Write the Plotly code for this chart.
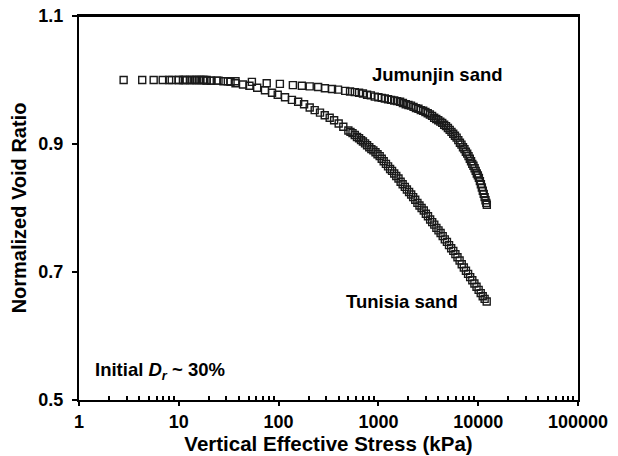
import plotly.graph_objects as go

# ---- data ----
jum_stress = [2.8, 4.3, 5.6, 6.9, 8.5, 10, 11.5, 13, 14.5, 16, 17.5, 19, 21, 25, 31, 37,
              54, 76, 103, 139, 171, 205, 249, 291, 343, 394, 465,
              520, 580, 640, 700, 770, 840, 920, 1000, 1080, 1160, 1250, 1340, 1440, 1540,
              1650, 1760, 1880, 2000, 2120, 2250, 2380, 2520, 2660, 2810, 2960, 3120, 3280,
              3450, 3620, 3800, 3980, 4170, 4360, 4560, 4760, 4970, 5180, 5400, 5620, 5850,
              6080, 6320, 6560, 6800, 7040, 7280, 7520, 7760, 8000, 8240, 8480, 8720, 8960,
              9200, 9440, 9680, 9920, 10160, 10400, 10640, 10880, 11120, 11360, 11600, 11840,
              12060, 12200]
jum_void = [1.000, 1.000, 1.000, 1.000, 1.000, 1.000, 1.000, 1.000, 1.000, 1.000, 1.000, 1.000,
            0.999, 0.999, 0.998, 0.998,
            0.997, 0.995, 0.994, 0.992, 0.991, 0.990, 0.989, 0.987, 0.986, 0.985, 0.983,
            0.982, 0.981, 0.980, 0.979, 0.977, 0.976, 0.974, 0.973, 0.972, 0.971, 0.970,
            0.969, 0.968, 0.967, 0.966, 0.964, 0.962, 0.961, 0.960, 0.958, 0.956, 0.955,
            0.953, 0.952, 0.950, 0.948, 0.946, 0.944, 0.941, 0.939, 0.937, 0.935, 0.933,
            0.930, 0.928, 0.925, 0.922, 0.919, 0.916, 0.913, 0.910, 0.906, 0.902, 0.899,
            0.895, 0.892, 0.888, 0.885, 0.881, 0.877, 0.873, 0.869, 0.866, 0.862, 0.858,
            0.854, 0.851, 0.847, 0.842, 0.837, 0.832, 0.827, 0.822, 0.817, 0.812, 0.808,
            0.805]

tun_stress = [8, 10, 11, 12, 13.5, 15, 16.5, 18, 19, 21, 24, 28, 33, 37, 44, 51, 61, 73, 86, 98,
              116, 136, 157, 180, 205, 230, 260, 290, 325, 360, 400, 445,
              500, 525, 550, 580, 610, 640, 670, 700, 735, 770, 810, 850, 890, 935, 980, 1030,
              1080, 1130, 1190, 1250, 1310, 1370, 1440, 1510, 1590, 1670, 1750, 1840, 1930,
              2030, 2130, 2230, 2340, 2460, 2580, 2710, 2850, 2990, 3140, 3300, 3460, 3630,
              3810, 4000, 4200, 4410, 4630, 4860, 5100, 5360, 5630, 5910, 6200, 6510, 6840,
              7180, 7540, 7920, 8310, 8730, 9160, 9620, 10100, 10600, 11100, 11600, 12170]
tun_void = [1.000, 1.000, 1.000, 1.000, 1.000, 1.000, 1.000, 1.000, 0.999, 0.999, 0.999, 0.998,
            0.997, 0.995, 0.993, 0.991, 0.988, 0.984, 0.980, 0.977,
            0.973, 0.969, 0.966, 0.962, 0.957, 0.953, 0.949, 0.945, 0.941, 0.937, 0.932, 0.927,
            0.921, 0.919, 0.917, 0.914, 0.911, 0.909, 0.906, 0.904, 0.901, 0.898, 0.895,
            0.892, 0.890, 0.887, 0.884, 0.881, 0.877, 0.873, 0.869, 0.865, 0.861, 0.858,
            0.854, 0.850, 0.846, 0.841, 0.837, 0.833, 0.829, 0.825, 0.821, 0.817, 0.813,
            0.808, 0.804, 0.800, 0.796, 0.791, 0.787, 0.782, 0.778, 0.774, 0.769, 0.765,
            0.761, 0.756, 0.751, 0.747, 0.742, 0.737, 0.733, 0.728, 0.723, 0.718, 0.712,
            0.707, 0.702, 0.697, 0.692, 0.687, 0.682, 0.677, 0.672, 0.667, 0.662, 0.658,
            0.654]

x_ticks = [1, 10, 100, 1000, 10000, 100000]
x_tick_labels = ["1", "10", "100", "1000", "10000", "100000"]
y_ticks = [0.5, 0.7, 0.9, 1.1]
y_tick_labels = ["0.5", "0.7", "0.9", "1.1"]

FONT = "Liberation Sans, Arial, sans-serif"
MC = "#1a1a1a"

minor_vals = [m * 10 ** k for k in range(0, 5) for m in range(2, 10)]

fig = go.Figure()
for xs, ys, name in [(tun_stress, tun_void, "Tunisia sand"), (jum_stress, jum_void, "Jumunjin sand")]:
    fig.add_trace(go.Scatter(
        x=xs, y=ys, mode="markers", name=name,
        marker=dict(symbol="square-open", size=7, color=MC, line=dict(width=1.4, color=MC)),
    ))

# the page body has an 8px margin, so the figure is offset by 8px
fig.update_layout(
    width=602, height=448,
    margin=dict(l=71, r=32, t=8, b=56),
    paper_bgcolor="white", plot_bgcolor="white",
    showlegend=False,
    font=dict(family=FONT, color="black"),
)

fig.update_xaxes(
    type="log", range=[0, 5], automargin=False,
    tickvals=x_ticks, ticktext=x_tick_labels, ticklabeloverflow="allow",
    ticks="outside", ticklen=4, tickwidth=1.5, tickcolor="black",
    minor=dict(tickvals=minor_vals, ticks="inside", ticklen=4, tickwidth=1.5, tickcolor="black", showgrid=False),
    showline=True, linewidth=2, linecolor="black", mirror=True,
    showgrid=False, zeroline=False,
    tickfont=dict(size=18, family=FONT, weight="bold"),
    title=dict(text="Vertical Effective Stress (kPa)", font=dict(size=20.5, family=FONT, weight="bold"), standoff=4),
)
fig.update_yaxes(
    range=[0.5, 1.1], automargin=False,
    tickvals=y_ticks, ticktext=y_tick_labels, ticklabeloverflow="allow",
    ticks="outside", ticklen=5, tickwidth=1.5, tickcolor="black",
    ticklabelstandoff=5,
    showline=True, linewidth=2, linecolor="black", mirror=True,
    showgrid=False, zeroline=False,
    tickfont=dict(size=18, family=FONT, weight="bold"),
    title=dict(text="Normalized Void Ratio", font=dict(size=20, family=FONT, weight="bold"), standoff=12),
)

# top border of the frame
fig.add_shape(type="line", xref="paper", yref="paper", x0=0, x1=1, y0=1, y1=1,
              line=dict(color="black", width=2), layer="above")

ann_font = dict(size=18.5, family=FONT, color="black", weight="bold")
fig.add_annotation(x=3.59, y=1.009, xref="x", yref="y", text="Jumunjin sand",
                   showarrow=False, xanchor="center", yanchor="middle", font=ann_font)
fig.add_annotation(x=3.24, y=0.654, xref="x", yref="y", text="Tunisia sand",
                   showarrow=False, xanchor="center", yanchor="middle", font=ann_font)
fig.add_annotation(x=0.14, y=0.546, xref="x", yref="y", text="Initial <i>D<sub>r</sub></i> ~ 30%",
                   showarrow=False, xanchor="left", yanchor="middle", font=ann_font)

fig.write_html("out.html")
